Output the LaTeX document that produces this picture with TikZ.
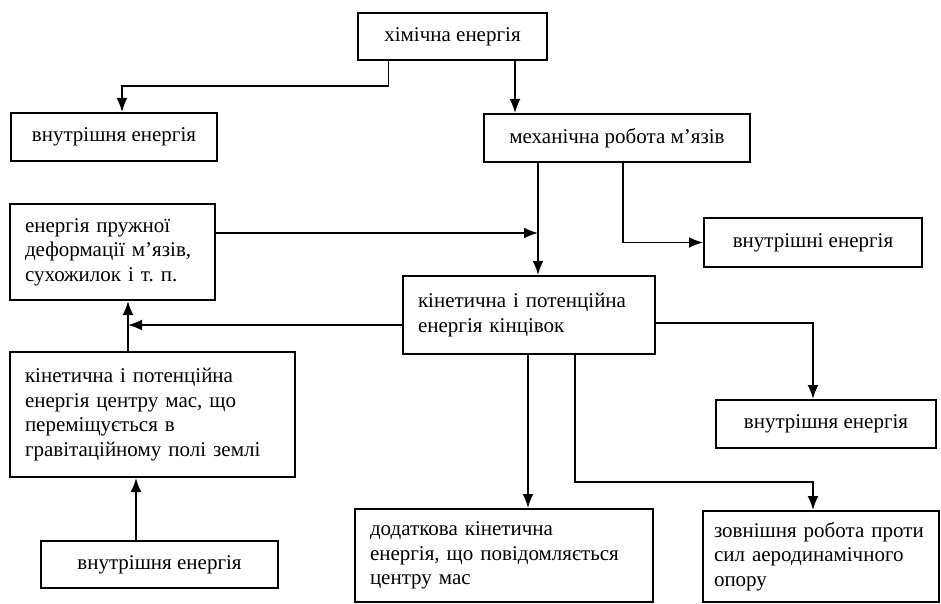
\documentclass[tikz,border=0pt]{standalone}
\usepackage{fontspec}
\setmainfont{Liberation Serif}
\usepackage{tikz}
\usetikzlibrary{shapes,arrows,arrows.meta,fit,positioning}

\begin{document}
\frenchspacing
\begin{tikzpicture}[x=1pt, y=-1pt,
    % Styles for the energy flow scheme
    block/.style={rectangle, draw, line width=2pt, inner sep=0pt, text centered, font=\fontsize{21}{24.5}\selectfont},
    note/.style={block, align=left, inner xsep=15pt},
    line/.style={draw, -{Latex[length=14pt,width=11pt]}, line width=1.8pt}]

    \useasboundingbox (0,0) rectangle (941,604);

    % Node: Chemical energy
    \node [block, minimum width=189, minimum height=47] (chem) at (452.5,36.5) {хімічна енергія};

    % Node: Internal energy (top left)
    \node [block, minimum width=206, minimum height=48] (inner1) at (114,137) {внутрішня енергія};

    % Node: Mechanical work of muscles
    \node [block, minimum width=266, minimum height=48] (mech) at (617,138) {механічна робота м’язів};

    % Node: Internal energy (right)
    \node [block, minimum width=218, minimum height=49] (inner2) at (813,242.5) {внутрішні енергія};

    % Node: Elastic deformation energy
    \node [note, text width=175, minimum height=96] (elastic) at (112.5,252) {енергія пружної\\ деформації м’язів,\\ сухожилок і т. п.};

    % Node: Energy of the limbs
    \node [note, text width=222, minimum height=78] (limbs) at (529,315) {кінетична і потенційна\\ енергія кінцівок};

    % Node: Energy of the centre of mass
    \node [note, text width=255, minimum height=125] (com) at (152.5,414.5) {кінетична і потенційна\\ енергія центру мас, що\\ переміщується в\\ гравітаційному полі землі};

    % Node: Internal energy (bottom left)
    \node [block, minimum width=237, minimum height=47] (inner4) at (159.5,564.5) {внутрішня енергія};

    % Node: Internal energy (right, lower)
    \node [block, minimum width=220, minimum height=48] (inner3) at (826,424) {внутрішня енергія};

    % Node: Additional kinetic energy
    \node [note, text width=268, minimum height=93] (extra) at (504,555.5) {додаткова кінетична\\ енергія, що повідомляється\\ центру мас};

    % Node: External work against air drag
    \node [note, inner xsep=11pt, text width=214, minimum height=91] (drag) at (821,556.5) {зовнішня робота проти\\ сил аеродинамічного\\ опору};

    % Helper points on the vertical lines
    \coordinate (join) at ([xshift=9]limbs.north);
    \coordinate (rise) at ([xshift=-24.5]com.north);

    % Edges (Flow)
    % 1. Chemical energy splits
    \path [line] ([xshift=-64]chem.south) -- ++(0,25) -| ([xshift=8]inner1.north);
    \path [line] ([xshift=62.5]chem.south) -- ([xshift=62.5]chem.south |- mech.north);

    % 2. Muscle work goes to the limbs and to internal energy
    \path [line] (mech.south -| join) -- (join);
    \path [line] ([xshift=6]mech.south) |- (inner2.west);

    % 3. Elastic energy returns to the limbs
    \path [line] ([yshift=19]elastic.east) -- ([yshift=19]elastic.east -| join);

    % 4. Limbs feed the centre of mass branch
    \path [line] ([yshift=-10]limbs.west) -- ([yshift=-10]limbs.west -| rise);
    \path [line] (rise) -- (rise |- elastic.south);
    \path [line] ([xshift=-23.5]inner4.north) -- ([xshift=-23.5]inner4.north |- com.south);

    % 5. Limbs lose energy
    \path [line] ([yshift=-8]limbs.east) -| ([xshift=-13]inner3.north);
    \path [line] ([xshift=-1]limbs.south) -- ([xshift=-1]limbs.south |- extra.north);
    \path [line] ([xshift=46]limbs.south) -- ++(0,127) -| ([xshift=-8]drag.north);

\end{tikzpicture}
\end{document}
